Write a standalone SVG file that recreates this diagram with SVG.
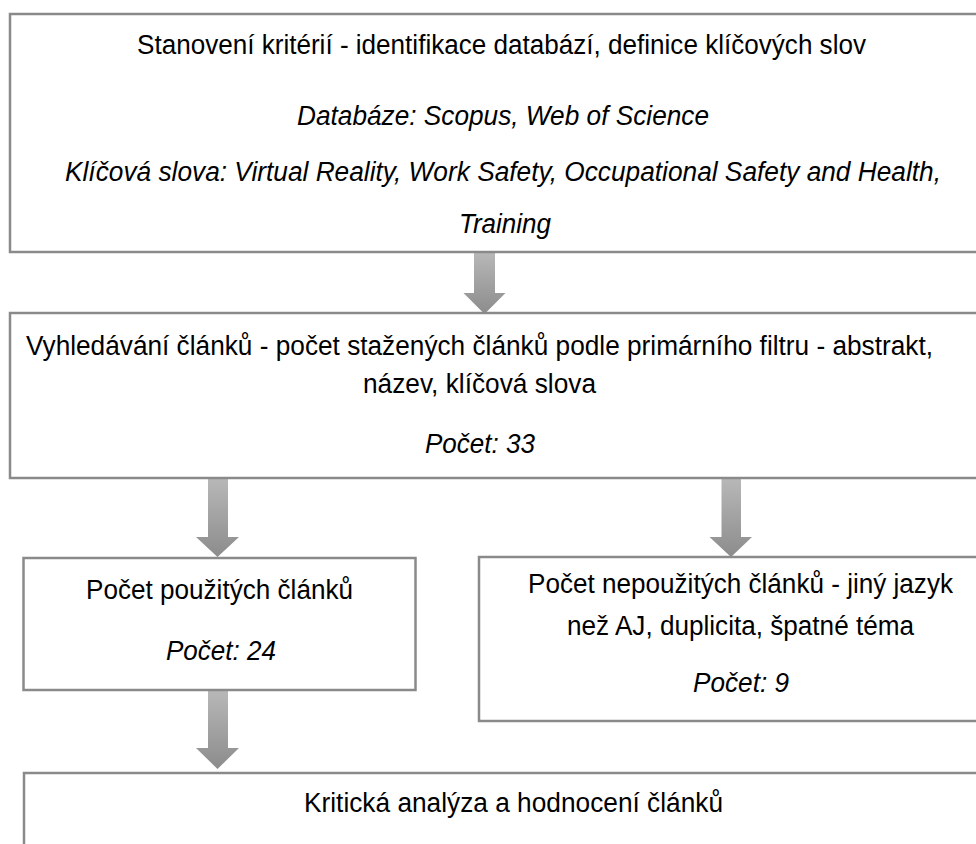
<svg xmlns="http://www.w3.org/2000/svg" width="976" height="844" viewBox="0 0 976 844">
<defs>
<linearGradient id="ag" x1="0" y1="0" x2="0" y2="1">
<stop offset="0" stop-color="#b8b8b8"/>
<stop offset="1" stop-color="#8c8c8c"/>
</linearGradient>
<style>
.box{fill:#ffffff;stroke:#8a8a8a;stroke-width:2.5}
.edge{fill:none;stroke:#8a8a8a;stroke-width:2.5}
.t{font-family:"Liberation Sans",Arial,sans-serif;font-size:27px;fill:#000;text-anchor:middle}
.i{font-style:italic}
.arr{fill:url(#ag)}
</style>
</defs>
<rect width="976" height="844" fill="#ffffff"/>
<g id="connectors">
<polygon class="arr" points="474,252 495,252 495,293 505.5,293 484.5,314 463.5,293 474,293"/>
<polygon class="arr" points="208,478 228,478 228,537 239,537 217.5,557 196,537 208,537"/>
<polygon class="arr" points="721.5,478 741,478 741,537 752,537 731,557 709.5,537 721.5,537"/>
<polygon class="arr" points="208,690 228,690 228,748 239,748 217.5,769 196,748 208,748"/>
</g>
<g id="node1">
<path class="edge" d="M976,14 H10 V252 H976"/>
<text class="t" x="501.5" y="54" textLength="729" lengthAdjust="spacingAndGlyphs">Stanovení kritérií - identifikace databází, definice klíčových slov</text>
<text class="t i" x="503" y="125" textLength="412" lengthAdjust="spacingAndGlyphs">Databáze: Scopus, Web of Science</text>
<text class="t i" x="503" y="180.5" textLength="876" lengthAdjust="spacingAndGlyphs">Klíčová slova: Virtual Reality, Work Safety, Occupational Safety and Health,</text>
<text class="t i" x="505" y="233" textLength="92" lengthAdjust="spacingAndGlyphs">Training</text>
</g>
<g id="node2">
<path class="edge" d="M976,313 H10 V478 H976"/>
<text class="t" x="479.5" y="355" textLength="907" lengthAdjust="spacingAndGlyphs">Vyhledávání článků - počet stažených článků podle primárního filtru - abstrakt,</text>
<text class="t" x="479.5" y="393" textLength="233" lengthAdjust="spacingAndGlyphs">název, klíčová slova</text>
<text class="t i" x="480" y="453" textLength="110" lengthAdjust="spacingAndGlyphs">Počet: 33</text>
</g>
<g id="node3">
<rect class="box" x="23.5" y="558" width="392" height="132"/>
<text class="t" x="219.5" y="599" textLength="267" lengthAdjust="spacingAndGlyphs">Počet použitých článků</text>
<text class="t i" x="221" y="660" textLength="110" lengthAdjust="spacingAndGlyphs">Počet: 24</text>
</g>
<g id="node4">
<path class="edge" d="M976,557 H479 V721 H976"/>
<text class="t" x="740.5" y="593" textLength="425" lengthAdjust="spacingAndGlyphs">Počet nepoužitých článků - jiný jazyk</text>
<text class="t" x="740.5" y="635" textLength="347" lengthAdjust="spacingAndGlyphs">než AJ, duplicita, špatné téma</text>
<text class="t i" x="741" y="692" textLength="96" lengthAdjust="spacingAndGlyphs">Počet: 9</text>
</g>
<g id="node5">
<path class="edge" d="M976,773 H24 V844"/>
<text class="t" x="513.5" y="812" textLength="419" lengthAdjust="spacingAndGlyphs">Kritická analýza a hodnocení článků</text>
</g>
</svg>
